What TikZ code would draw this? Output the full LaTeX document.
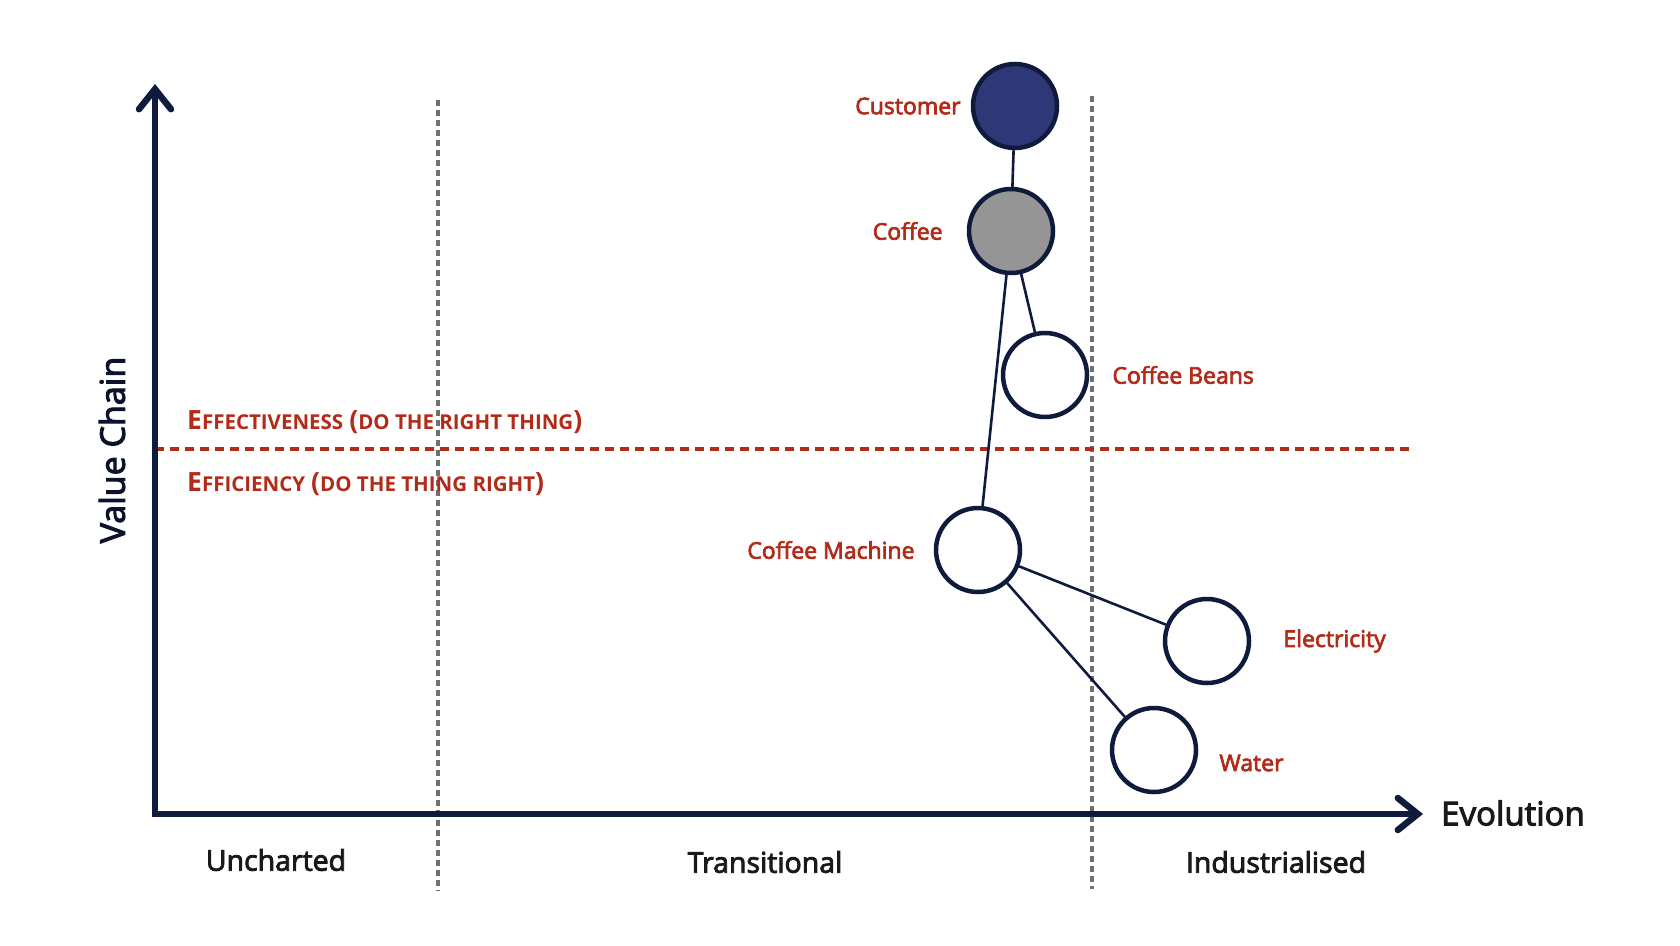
\documentclass[tikz,border=0pt]{standalone}
\usepackage{fontspec}
\setmainfont{Open Sans}
\newfontfamily\medfont[FakeBold=3]{Open Sans}
\usepackage{xcolor}
\usetikzlibrary{arrows.meta,positioning}

\definecolor{navy}{HTML}{0F1B3D}
\definecolor{custfill}{HTML}{2E3876}
\definecolor{coffeegray}{HTML}{959595}
\definecolor{mapred}{HTML}{B22A18}
\definecolor{gridgray}{HTML}{707070}

% fake small caps: big initial, smaller rest
\newcommand{\bigc}[1]{{\fontsize{26.5}{30}\selectfont #1}}
\newcommand{\smallc}[1]{{\fontsize{20.5}{24}\selectfont #1}}

\begin{document}
\begin{tikzpicture}[
    x=1pt, y=-1pt,
    font=\medfont\fontsize{23}{27}\selectfont,
    comp/.style={circle, draw=navy, line width=4.5pt, minimum size=84pt, inner sep=0pt, fill=white},
    lbl/.style={text=mapred, inner sep=0pt},
    link/.style={draw=navy, line width=2.6pt},
    axis/.style={draw=navy, line width=6.5pt, line join=miter,
        {Straight Barb[length=20pt,width=32pt,line cap=round]}-{Straight Barb[length=20pt,width=32pt,line cap=round]}},
    phase/.style={draw=gridgray, line width=3.2pt, dash pattern=on 6pt off 4pt},
    divide/.style={draw=mapred, line width=3.2pt, dash pattern=on 9pt off 6pt},
    stage/.style={text=black!90, inner sep=0pt, font=\medfont\fontsize{28.5}{32}\selectfont},
    sclabel/.style={text=mapred, inner sep=0pt, anchor=west, font=\bfseries}
]
\useasboundingbox (0,0) rectangle (1680,945);

% phase boundaries
\coordinate (ph1top) at (438,100);
\coordinate (ph1bot) at (438,891);
\coordinate (ph2top) at (1092,96);
\coordinate (ph2bot) at (1092,889);
\draw[phase] (ph1top) -- (ph1bot);
\draw[phase] (ph2top) -- (ph2bot);

% effectiveness / efficiency split
\coordinate (divL) at (155,449);
\coordinate (divR) at (1412,449);
\draw[divide] (divL) -- (divR);
\node[sclabel] (effect) at (187,422) {\bigc{E}\smallc{FFECTIVENESS}\hspace{6pt}\bigc{(}\smallc{DO THE RIGHT THING}\bigc{)}};
\node[sclabel] (effic) at (187,484) {\bigc{E}\smallc{FFICIENCY}\hspace{6pt}\bigc{(}\smallc{DO THE THING RIGHT}\bigc{)}};

% axes
\coordinate (vtop) at (155,84);
\coordinate (origin) at (155,814);
\coordinate (htip) at (1423,814);
\draw[axis] (vtop) -- (origin) -- (htip);
\node[text=navy!70!black, rotate=90, font=\medfont\fontsize{34}{38}\selectfont] (ylab) at (112,450) {Value Chain};
\node[text=black!90, anchor=west, inner sep=0pt, font=\medfont\fontsize{33}{38}\selectfont] (xlab) at (1441,813) {Evolution};

\node[stage] (uncharted) at (276,860) {Uncharted};
\node[stage] (transit) at (765,862) {Transitional};
\node[stage] (indust) at (1276,862) {Industrialised};

% components
\node[comp, fill=custfill] (customer) at (1015,106) {};
\node[comp, fill=coffeegray] (coffee) at (1011,231) {};
\node[comp] (beans) at (1045,375) {};
\node[comp] (machine) at (978,550) {};
\node[comp] (power) at (1207,641) {};
\node[comp] (water) at (1154,750) {};

\node[lbl, left=10pt of customer] {Customer};
\node[lbl, left=24pt of coffee] {Coffee};
\node[lbl, right=23pt of beans] {Coffee Beans};
\node[lbl, left=19pt of machine] {Coffee Machine};
\node[lbl, right=32pt of power] {Electricity};
\node[lbl, right=21pt of water, yshift=-13pt] {Water};

\draw[link] (customer) -- (coffee);
\draw[link] (coffee) -- (beans);
\draw[link] (coffee) -- (machine);
\draw[link] (machine) -- (power);
\draw[link] (machine) -- (water);
\end{tikzpicture}
\end{document}
